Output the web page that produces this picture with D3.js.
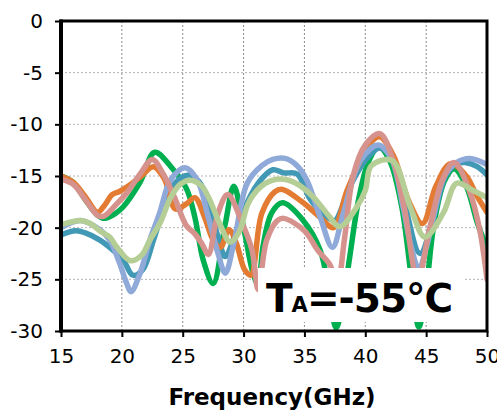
<!DOCTYPE html>
<html>
<head>
<meta charset="utf-8">
<script src="https://cdn.jsdelivr.net/npm/d3@7"></script>
<style>
  html, body { margin: 0; padding: 0; background: #fff; }
  svg { display: block; }
</style>
</head>
<body>
<svg id="chart" width="497" height="410"></svg>
<script>
// ---- data ----
const xTicks = [15, 20, 25, 30, 35, 40, 45, 50];
const yTicks = [0, -5, -10, -15, -20, -25, -30];

const greenF = [15, 16, 17, 18, 18.6, 19.5, 20.1, 21.5, 22.7, 24.1, 25.3, 26, 26.7, 27.5, 28.5, 29.2, 30, 30.8, 31.2, 31.6, 32.3, 33.2, 34.9, 36.3, 37, 37.6, 38.2, 38.7, 39.5, 40.3, 41.1, 42, 43, 43.8, 44.4, 45, 45.6, 46.5, 47.3, 48.3, 49.2, 50];
const greenV = [-15, -15.6, -17.3, -18.8, -19.1, -18.6, -18, -15.6, -12.7, -14.2, -16.2, -19, -23.2, -25.4, -19.6, -16, -20, -24.5, -25.5, -21.8, -18.6, -17.6, -19.3, -22.2, -26, -29.7, -27, -23, -17, -13.5, -12.2, -13.5, -18, -25, -29.6, -26, -20, -15.5, -14.3, -16, -19.5, -22];

const tealF = [15, 16.2, 17, 18.2, 19, 20.1, 20.9, 21.7, 22.6, 23.4, 24.3, 25.5, 26.3, 27.1, 27.9, 28.5, 29.2, 29.9, 31.2, 32.4, 33.3, 34.4, 35.5, 36.9, 37.5, 38.7, 40, 41.2, 42.3, 43.2, 44.5, 45.6, 46.6, 47.5, 48.2, 49.2, 50];
const tealV = [-20.7, -20.3, -20.5, -21.2, -21.9, -23.1, -24.6, -24.1, -21.2, -18.3, -15.8, -14.9, -15.5, -17.3, -20.9, -22.8, -21, -18.6, -15.7, -14.4, -14.7, -14.8, -17.3, -19, -19.3, -16.1, -13.5, -12.3, -13.5, -17.5, -22.5, -19, -15, -13.8, -13.7, -14.1, -14.9];

const orangeF = [15, 16, 17, 18, 18.6, 19.2, 19.8, 20.5, 21.5, 22.6, 23.5, 24.4, 25.3, 26, 26.8, 27.5, 28.1, 28.8, 29.4, 30.1, 30.6, 31.5, 32.6, 33.2, 34.8, 36.3, 37.4, 38.5, 39.6, 40.4, 41.2, 42.3, 43.6, 44.7, 45.8, 47, 48.3, 49.2, 50];
const orangeV = [-15, -15.6, -17, -18.5, -17.8, -16.8, -16.5, -16, -15.1, -14.1, -15.3, -18.2, -17.7, -17.1, -19, -21.2, -21.9, -20.2, -21.5, -24.1, -24.6, -18.6, -16.5, -16.3, -17.5, -19, -20, -16.4, -13.5, -11.8, -11.2, -13, -17.5, -19.6, -16, -13.8, -15, -17, -18.5];

const pinkF = [15, 16, 17, 18, 18.5, 19.5, 20.5, 21.5, 22.5, 23.4, 24.3, 25.3, 26, 26.6, 27.1, 27.9, 28.7, 29.9, 30.7, 31.2, 31.9, 32.8, 33.3, 35, 36.1, 37.1, 37.7, 38.3, 39, 40, 41.2, 42.3, 43.2, 44.3, 45.3, 46.3, 47.3, 48.6, 49.4, 50];
const pinkV = [-15.3, -15.8, -17.3, -18.8, -18.9, -17.8, -16.5, -14.8, -13.4, -14.8, -17, -19.8, -20.6, -21.6, -22.6, -18.6, -16.8, -19.6, -22.2, -26, -21.2, -19.3, -19.1, -20.3, -22.2, -23.6, -25.5, -21, -15, -12, -10.9, -13.5, -18, -25, -20, -15.5, -13.7, -16.6, -20.2, -25];

const blueF = [15, 16.6, 18.2, 19, 19.8, 20.4, 20.75, 21.5, 22.3, 23.1, 24, 25.2, 26.2, 27.1, 27.9, 28.5, 29.2, 30.3, 31.5, 32.4, 33.4, 34.4, 35.2, 36.3, 37.3, 38.2, 39.6, 41.1, 42.2, 43.1, 43.8, 44.4, 45, 45.6, 46.5, 47.5, 48.6, 50];
const blueV = [-20, -19.3, -20.2, -21.2, -23.4, -25.4, -26.2, -24.4, -21.2, -18.6, -15.4, -14.2, -15.4, -19, -22.5, -24.4, -21.5, -15.7, -14, -13.4, -13.3, -14, -15.4, -19, -21.9, -18.6, -13.5, -12, -13.5, -18, -22, -24, -22, -19, -15, -13.7, -13.3, -13.9];

const lgreenF = [15, 16, 16.6, 17.4, 18.3, 19, 19.6, 20.7, 21.6, 22.3, 23.2, 24, 24.8, 25.6, 26.5, 27.1, 28, 28.9, 29.6, 30.4, 31.1, 31.8, 33, 34.3, 35.7, 36.9, 37.9, 39.3, 40, 40.5, 42.2, 43.7, 44.9, 46.4, 47.5, 48.7, 50];
const lgreenV = [-19.7, -19.4, -19.3, -19.6, -20.4, -20.9, -21.9, -23.2, -22.7, -21.2, -19.4, -17.1, -15.8, -15.4, -15.9, -17, -19.5, -21.4, -20.5, -17.6, -16.4, -15.7, -15.3, -15.7, -17, -18.7, -19.9, -18, -16.4, -14, -13.5, -18, -20.9, -18.6, -15.7, -16.3, -17.1];

const seriesNames = ["green", "teal", "orange", "blue", "pink", "lgreen"];
const seriesF = [greenF, tealF, orangeF, blueF, pinkF, lgreenF];
const seriesV = [greenV, tealV, orangeV, blueV, pinkV, lgreenV];
const seriesColors = ["#00B050", "#4299B6", "#E47B33", "#8FA9D9", "#D6928D", "#B5CE95"];

// ---- chart ----
const svg = d3.select("#chart");
const L = 61, R = 487, T = 21, B = 331;
const x = d3.scaleLinear().domain([15, 50]).range([L, R]);
const y = d3.scaleLinear().domain([-30, 0]).range([B, T]);

svg.append("defs").append("clipPath").attr("id", "plotclip")
  .append("rect").attr("x", L).attr("y", T).attr("width", R - L).attr("height", B - T);

// grid
const grid = svg.append("g");
grid.selectAll("line.v").data(xTicks.filter(d => d > 15 && d < 50)).enter().append("line")
  .attr("x1", d => x(d)).attr("x2", d => x(d)).attr("y1", T).attr("y2", B)
  .attr("stroke", "#8c8c8c").attr("stroke-width", 1).attr("stroke-dasharray", "2,2");
grid.selectAll("line.h").data(yTicks.filter(d => d < 0 && d > -30)).enter().append("line")
  .attr("y1", d => y(d)).attr("y2", d => y(d)).attr("x1", L).attr("x2", R)
  .attr("stroke", "#b4b4b4").attr("stroke-width", 1).attr("stroke-dasharray", "2,2");

// lines
const line = d3.line().x(d => x(d[0])).y(d => y(d[1])).curve(d3.curveCatmullRom.alpha(0.5));
const lg = svg.append("g").attr("clip-path", "url(#plotclip)");
seriesNames.forEach((name, i) => {
  const pts = seriesF[i].map((f, j) => [f, seriesV[i][j]]);
  lg.append("path").datum(pts)
    .attr("d", line)
    .attr("fill", "none")
    .attr("stroke", seriesColors[i])
    .attr("stroke-width", 5.5)
    .attr("stroke-linejoin", "round")
    .attr("stroke-linecap", "round");
});

// annotation box
svg.append("rect").attr("x", 258).attr("y", 268).attr("width", 207).attr("height", 54).attr("fill", "#fff");
const ann = svg.append("text").attr("x", 266).attr("y", 312)
  .attr("font-family", "DejaVu Sans").attr("font-weight", "bold").attr("fill", "#000")
  .attr("letter-spacing", "-1");
ann.append("tspan").attr("font-size", 39).text("T");
ann.append("tspan").attr("font-size", 21).text("A");
ann.append("tspan").attr("font-size", 39).text("=-55°C");

// frame
svg.append("rect").attr("x", L).attr("y", T).attr("width", R - L).attr("height", B - T)
  .attr("fill", "none").attr("stroke", "#000").attr("stroke-width", 3);
svg.append("line").attr("x1", L).attr("x2", L).attr("y1", T - 1.5).attr("y2", B + 1.5)
  .attr("stroke", "#000").attr("stroke-width", 4);

// axes
const yAxis = d3.axisLeft(y).tickValues(yTicks).tickSize(6).tickPadding(12).tickFormat(d3.format("d"));
const gy = svg.append("g").attr("transform", `translate(${L},0)`).call(yAxis);
gy.select(".domain").remove();
gy.selectAll(".tick line").attr("stroke", "#000").attr("stroke-width", 2);
gy.selectAll(".tick text").attr("font-family", "DejaVu Sans").attr("font-size", 20).attr("fill", "#000")
  .text(d => d === 0 ? "0" : "-" + Math.abs(d));

const xAxis = d3.axisBottom(x).tickValues(xTicks).tickSize(6).tickPadding(12).tickFormat(d3.format("d"));
const gx = svg.append("g").attr("transform", `translate(0,${B})`).call(xAxis);
gx.select(".domain").remove();
gx.selectAll(".tick line").attr("stroke", "#000").attr("stroke-width", 2);
gx.selectAll(".tick text").attr("font-family", "DejaVu Sans").attr("font-size", 20).attr("fill", "#000");

svg.append("text").attr("x", 272).attr("y", 405).attr("text-anchor", "middle")
  .attr("font-family", "DejaVu Sans").attr("font-weight", "bold").attr("font-size", 23)
  .attr("fill", "#000").text("Frequency(GHz)");
</script>
</body>
</html>
